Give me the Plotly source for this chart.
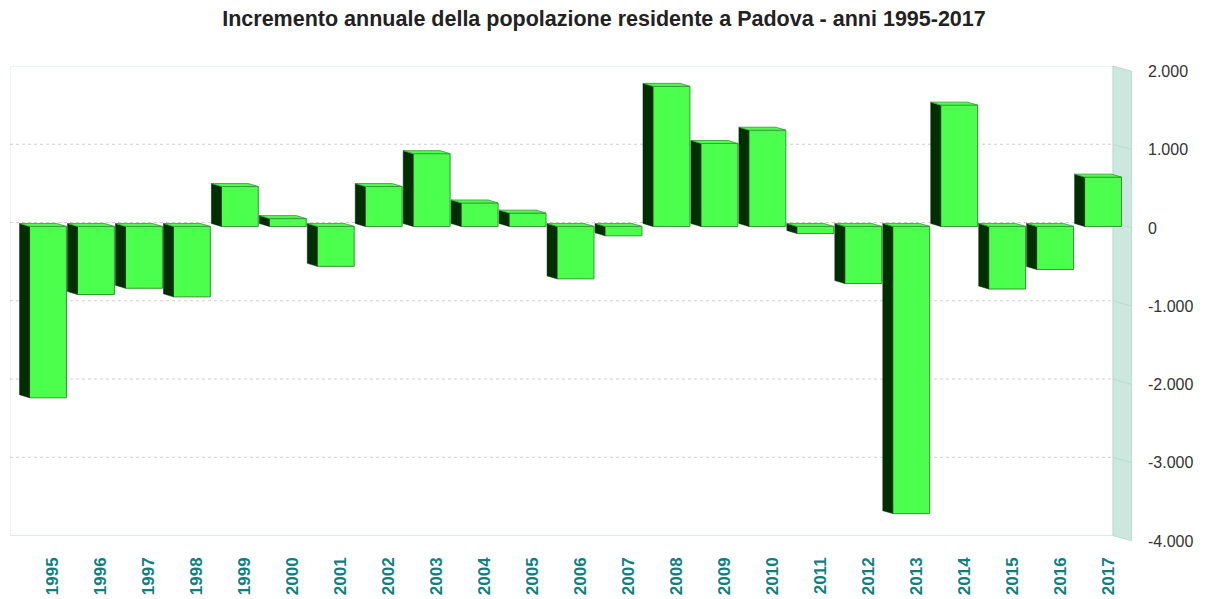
import plotly.graph_objects as go

# === Dati ===
anni = ["1995", "1996", "1997", "1998", "1999", "2000", "2001", "2002", "2003", "2004", "2005", "2006",
        "2007", "2008", "2009", "2010", "2011", "2012", "2013", "2014", "2015", "2016", "2017"]
incremento = [-2190, -870, -790, -900, 510, 100, -510, 510, 930, 300, 170, -670,
              -120, 1790, 1060, 1230, -90, -730, -3670, 1550, -800, -550, 630]
tick_vals = [2000, 1000, 0, -1000, -2000, -3000, -4000]
tick_text = ["2.000", "1.000", "0", "-1.000", "-2.000", "-3.000", "-4.000"]

# === Stile / geometria finto 3D ===
VERDE = "#4CFF4C"
VERDE_BORDO = "#2E9A2E"
VERDE_SCURO = "#032E03"
PARETE = "#CBE7DE"
X0, X1 = -0.896, 22.5          # range asse x (parete di fondo a sinistra -> fronte a destra)
Y0, Y1 = -4000, 2070
DX_PARETE, DY_PARETE = 0.396, 70  # profondita' della parete destra
SHIFT_X, SHIFT_Y = -0.104, 20      # piano frontale delle barre
LARG = 0.77
DX_BAR, DY_BAR = 0.208, 38         # profondita' delle barre

pos = list(range(len(anni)))

fig = go.Figure()

# facce laterali e superiori (poligoni)
lat_x, lat_y, top_x, top_y = [], [], [], []
for i, v in zip(pos, incremento):
    xl = i + SHIFT_X - LARG / 2
    xr = i + SHIFT_X + LARG / 2
    alto = max(v, 0) + SHIFT_Y
    lat_x += [xl, xl, xl - DX_BAR, xl - DX_BAR, xl, None]
    lat_y += [SHIFT_Y, v + SHIFT_Y, v + SHIFT_Y + DY_BAR, SHIFT_Y + DY_BAR, SHIFT_Y, None]
    top_x += [xl, xr, xr - DX_BAR, xl - DX_BAR, xl, None]
    top_y += [alto, alto, alto + DY_BAR, alto + DY_BAR, alto, None]

fig.add_trace(go.Scatter(x=lat_x, y=lat_y, mode="lines", fill="toself", fillcolor=VERDE_SCURO,
                         line=dict(color=VERDE_SCURO, width=0.5), hoverinfo="skip", showlegend=False))
fig.add_trace(go.Scatter(x=top_x, y=top_y, mode="lines", fill="toself", fillcolor=VERDE,
                         line=dict(color=VERDE_BORDO, width=0.8), hoverinfo="skip", showlegend=False))

# facce frontali
fig.add_trace(go.Bar(x=[p + SHIFT_X for p in pos], y=incremento, base=SHIFT_Y, width=LARG,
                     marker=dict(color=VERDE, line=dict(color=VERDE_BORDO, width=1)),
                     customdata=anni, hovertemplate="%{customdata}: %{y}<extra></extra>",
                     showlegend=False))

# parete di fondo, griglia e parete destra
xb = X1 - DX_PARETE
shapes = [
    dict(type="rect", x0=X0, x1=xb, y0=Y0 + DY_PARETE, y1=Y1, layer="below",
         line=dict(color="#D9EEE8", width=1), fillcolor="white"),
    dict(type="path", path=f"M {xb},{Y1} L {X1},{Y1 - DY_PARETE} L {X1},{Y0} L {xb},{Y0 + DY_PARETE} Z",
         layer="below", fillcolor=PARETE, line=dict(color="#B9DCD1", width=1)),
]
for v in tick_vals[1:-1]:
    shapes.append(dict(type="line", x0=X0, x1=xb, y0=v + DY_PARETE, y1=v + DY_PARETE, layer="below",
                       line=dict(color="#CFCFCF", width=1, dash="dot")))
    shapes.append(dict(type="line", x0=xb, x1=X1, y0=v + DY_PARETE, y1=v, layer="below",
                       line=dict(color="#B9DCD1", width=1)))

# la pagina ha 8px di margine nel body: figura 1201x591
fig.update_layout(
    width=1201, height=591,
    margin=dict(l=2, r=77, t=58, b=58, autoexpand=False),
    paper_bgcolor="white", plot_bgcolor="white",
    font=dict(family="Liberation Sans, Arial, sans-serif"),
    title=dict(text="Incremento annuale della popolazione residente a Padova - anni 1995-2017",
               x=596 / 1201, xref="container", xanchor="center", y=1 - 10 / 591, yref="container",
               yanchor="middle", font=dict(size=21.5, color="#222222", weight="bold")),
    shapes=shapes,
    xaxis=dict(range=[X0, X1], tickvals=pos, ticktext=anni, tickangle=-90, showgrid=False,
               zeroline=False, showline=False, ticks="", ticklabelstandoff=12, automargin=False,
               tickfont=dict(size=17, color="#0F7F7F", weight="bold")),
    yaxis=dict(range=[Y0, Y1], side="right", tickvals=tick_vals, ticktext=tick_text, showgrid=False,
               zeroline=False, showline=False, ticks="", ticklabelstandoff=15, automargin=False,
               tickfont=dict(size=16, color="#333333")),
)

fig.write_html("out.html")
